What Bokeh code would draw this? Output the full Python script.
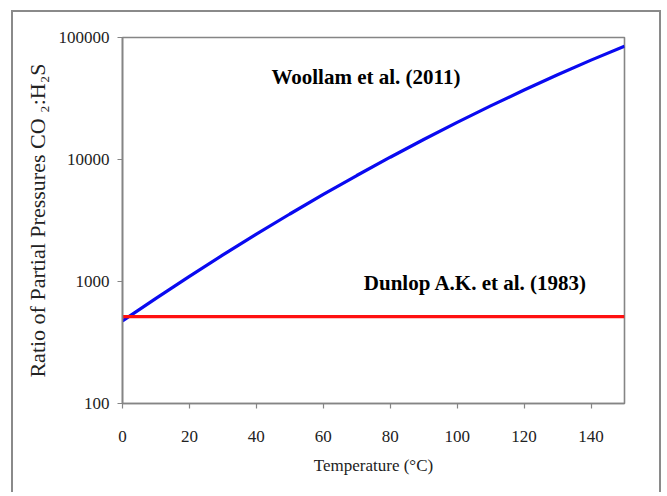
from bokeh.plotting import figure
from bokeh.models import Range1d, FixedTicker, NumeralTickFormatter, Label
from bokeh.embed import file_html
from bokeh.resources import INLINE

# Data
temperature = [0, 10, 20, 30, 40, 50, 60, 70, 80, 90, 100, 110, 120, 130, 140, 150]
woollam_ratio = [475, 728, 1103, 1651, 2444, 3575, 5170, 7390, 10440, 14590,
                 20150, 27500, 37100, 49480, 65220, 85000]
dunlop_temperature = [0, 150]
dunlop_ratio = [515, 515]
x_ticks = [0, 20, 40, 60, 80, 100, 120, 140]
y_ticks = [100, 1000, 10000, 100000]

GRAY = "#858585"
BORDER = "2px solid #8a8a8a"
SERIF = "Liberation Serif"

p = figure(width=650, height=482, output_backend="svg", toolbar_location=None,
           y_axis_type="log",
           x_range=Range1d(0, 150), y_range=Range1d(100, 100000),
           min_border_left=109, min_border_right=39,
           min_border_top=25, min_border_bottom=91,
           margin=(10, 0, 0, 11),
           styles={"border-top": BORDER, "border-left": BORDER, "border-right": BORDER})
p.background_fill_color = "white"
p.border_fill_color = "white"
p.outline_line_color = GRAY
p.outline_line_width = 1.6
p.xgrid.visible = False
p.ygrid.visible = False

p.line(temperature, woollam_ratio, line_color="#0a0af0", line_width=3.2)
p.line(dunlop_temperature, dunlop_ratio, line_color="#ff1010", line_width=3.2)

# axes
p.xaxis.ticker = FixedTicker(ticks=x_ticks, minor_ticks=[])
p.yaxis.ticker = FixedTicker(ticks=y_ticks, minor_ticks=[])
p.yaxis.formatter = NumeralTickFormatter(format="0")
for ax in (p.xaxis[0], p.yaxis[0]):
    ax.axis_line_color = GRAY
    ax.axis_line_width = 1.6
    ax.major_tick_line_color = GRAY
    ax.major_tick_line_width = 1.2
    ax.major_tick_in = 0
    ax.major_tick_out = 5
    ax.minor_tick_line_color = None
    ax.major_label_text_font = SERIF
    ax.major_label_text_font_size = "17px"
    ax.major_label_text_color = "#222222"
    ax.axis_label_text_font = SERIF
    ax.axis_label_text_font_style = "normal"
    ax.axis_label_text_color = "#222222"

p.xaxis.axis_label = "Temperature (°C)"
p.xaxis.axis_label_text_font_size = "17px"
p.xaxis.major_label_standoff = 22
p.xaxis.axis_label_standoff = 11
p.yaxis.axis_label = "Ratio of Partial Pressures CO ₂:H₂S"
p.yaxis.axis_label_text_font_size = "22px"
p.yaxis.major_label_standoff = 8
p.yaxis.axis_label_standoff = 6

# annotations
p.add_layout(Label(x=44.5, y=47300, text="Woollam et al. (2011)",
                   text_font=SERIF, text_font_style="bold", text_font_size="21px",
                   text_color="black", text_baseline="alphabetic"))
p.add_layout(Label(x=72.1, y=975, text="Dunlop A.K. et al. (1983)",
                   text_font=SERIF, text_font_style="bold", text_font_size="21px",
                   text_color="black", text_baseline="alphabetic"))

open("out.html", "w").write(file_html(p, INLINE))
